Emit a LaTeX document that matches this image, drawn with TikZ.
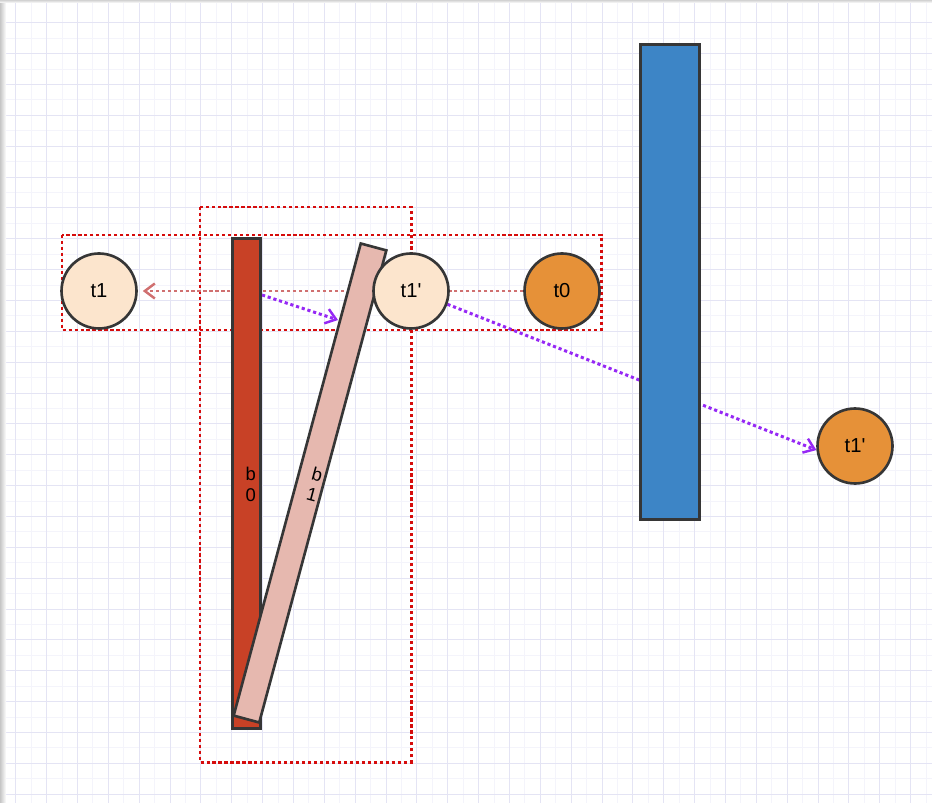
\documentclass[tikz,border=0pt]{standalone}
\usepackage{fontspec}
\setmainfont{Liberation Sans}
\usetikzlibrary{arrows.meta}
\definecolor{gridmaj}{RGB}{228,228,244}
\definecolor{gridmin}{RGB}{244,244,251}
\definecolor{selred}{RGB}{214,12,12}
\definecolor{barred}{RGB}{200,65,38}
\definecolor{barpink}{RGB}{230,184,175}
\definecolor{barblue}{RGB}{61,133,198}
\definecolor{peach}{RGB}{252,229,205}
\definecolor{tangerine}{RGB}{230,145,56}
\definecolor{edge}{RGB}{54,54,54}
\definecolor{linkpink}{RGB}{208,112,112}
\definecolor{linkviolet}{RGB}{150,40,245}
\pgfdeclarelayer{paper}
\pgfdeclarelayer{links}
\pgfsetlayers{paper,links,main}

\begin{document}
\begin{tikzpicture}[
    x=0.02cm,y=-0.02cm,
    bar/.style={rectangle,draw=edge,line width=1.5pt,inner sep=0pt},
    token/.style={circle,draw=edge,line width=1.5pt,minimum size=1.5cm,inner sep=0pt,
                  font=\fontsize{11.5}{13}\selectfont},
    barlabel/.style={align=center,inner sep=0pt,font=\fontsize{10.5}{12}\selectfont},
    group/.style={draw=selred,line width=1.7pt,dash pattern=on 1.8pt off 1.6pt},
    flow/.style={line width=1.7pt,dash pattern=on 1.8pt off 1.6pt,
                 -{Straight Barb[length=2mm,width=3mm,line width=1.4pt]}},
  ]
  \useasboundingbox (0,0) rectangle (932,803);
  \begin{pgfonlayer}{paper}
    \fill[white] (0,0) rectangle (932,803);
    \foreach \i in {0,...,59} {
      \draw[gridmin,line width=0.5pt] ({15.7+15.43*\i},0) -- ({15.7+15.43*\i},803);
    }
    \foreach \i in {0,...,50} {
      \draw[gridmin,line width=0.5pt] (0,{22.7+15.43*\i}) -- (932,{22.7+15.43*\i});
    }
    \foreach \i in {0,...,29} {
      \draw[gridmaj,line width=0.5pt] ({15.7+30.86*\i},0) -- ({15.7+30.86*\i},803);
    }
    \foreach \i in {0,...,25} {
      \draw[gridmaj,line width=0.5pt] (0,{22.7+30.86*\i}) -- (932,{22.7+30.86*\i});
    }
    \shade[left color=gray!45,right color=white] (0,0) rectangle (6,803);
    \shade[top color=gray!35,bottom color=white] (0,0) rectangle (932,3);
    \draw[group] (62,235) rectangle (601,330);
    \draw[group] (200,207) rectangle (411,762);
  \end{pgfonlayer}

  \node[bar,fill=barred,minimum width=0.56cm,minimum height=9.8cm] (b0) at (246.5,483.5) {};
  \node[bar,fill=barpink,minimum width=0.53cm,minimum height=9.78cm,rotate=-15.07] (b1) at (310,483) {};
  \node[bar,fill=barblue,minimum width=1.18cm,minimum height=9.5cm] (blk) at (670,282) {};
  \node[barlabel] (b0lbl) at (250.7,484.5) {b\\0};
  \node[barlabel,rotate=-15] (b1lbl) at (314.7,484.5) {b\\1};

  \node[token,fill=peach] (t1) at (99,291) {t1};
  \node[token,fill=peach] (t1p) at (411,291) {t1\textquotesingle};
  \node[token,fill=tangerine] (t0) at (562,291) {t0};
  \node[token,fill=tangerine] (t1o) at (855,446) {t1\textquotesingle};

  \coordinate (p0) at (262,295);
  \coordinate (p1) at (338,320);
  \begin{pgfonlayer}{links}
    \draw[flow,linkpink,shorten >=0.1cm] (t0) -- (t1);
    \draw[flow,linkviolet] (p0) -- (p1);
    \draw[flow,linkviolet] (t1p.-20) -- (t1o.186);
  \end{pgfonlayer}
\end{tikzpicture}
\end{document}
